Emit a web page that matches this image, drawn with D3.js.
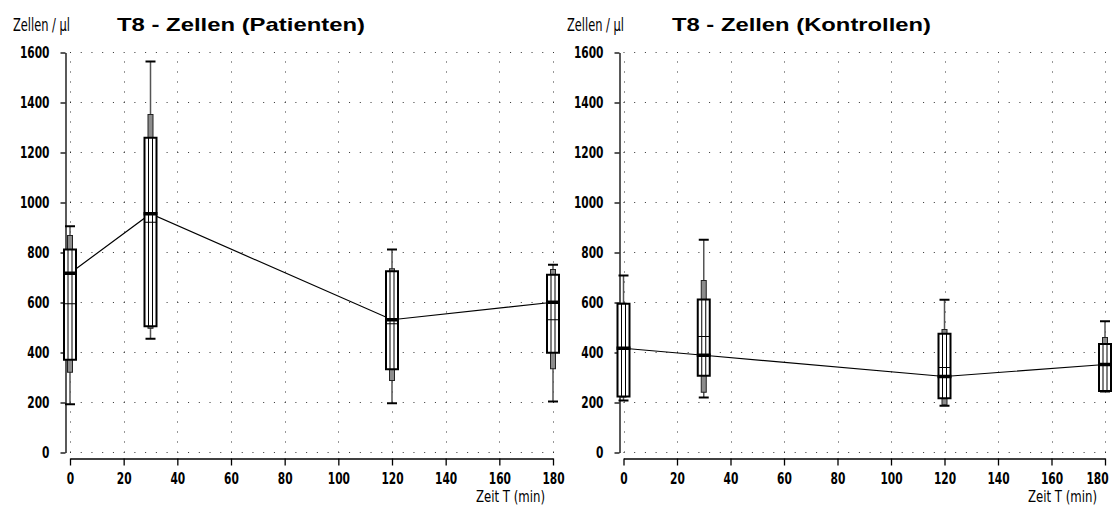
<!DOCTYPE html>
<html>
<head>
<meta charset="utf-8">
<script src="https://cdn.jsdelivr.net/npm/d3@7"></script>
<style>
body { margin: 0; background: #fff; }
svg { display: block; }
.tick text { font-family: "DejaVu Sans Condensed", "DejaVu Sans"; font-stretch: condensed; font-weight: bold; font-size: 15px; fill: #000; }
</style>
</head>
<body>
<svg id="chart" width="1115" height="507"></svg>
<script>
// measurement times (min)
var times = [0, 30, 120, 180]
var xTicks = [0, 20, 40, 60, 80, 100, 120, 140, 160, 180]
var yTicks = [0, 200, 400, 600, 800, 1000, 1200, 1400, 1600]

// Patienten
var patMin = [193, 455, 197, 204]
var patP10 = [321, 497, 288, 335]
var patQ1 = [371, 505, 333, 399]
var patMedian = [717, 955, 531, 601]
var patMean = [595, 921, 515, 531]
var patQ3 = [812, 1259, 725, 711]
var patP90 = [868, 1352, 735, 732]
var patMax = [905, 1564, 812, 751]

// Kontrollen
var konMin = [208, 220, 187, 244]
var konP10 = [222, 241, 191, 246]
var konQ1 = [224, 307, 217, 246]
var konMedian = [417, 389, 304, 352]
var konMean = [417, 464, 340, 352]
var konQ3 = [595, 612, 475, 434]
var konP90 = [597, 688, 492, 460]
var konMax = [708, 851, 611, 525]

var svg = d3.select('#chart')

function drawPanel(p) {
    var g = svg.append('g')
    var xScale = d3.scaleLinear().domain([0, 180]).range([p.left, p.right])
    var yScale = d3.scaleLinear().domain([0, 1600]).range([452.5, 52.5])
    var dx = xScale(4) - xScale(0)
    var dy = yScale(0) - yScale(40)

    // dotted grid
    g.selectAll('.hgrid').data(yTicks).enter().append('line')
        .attr('x1', xScale(0)).attr('x2', xScale(180) + 1)
        .attr('y1', function (d) { return yScale(d) }).attr('y2', function (d) { return yScale(d) })
        .style('stroke', '#333').style('stroke-width', 1)
        .style('stroke-dasharray', '1 ' + (dx - 1))
    g.selectAll('.vgrid').data(xTicks).enter().append('line')
        .attr('x1', function (d) { return Math.round(xScale(d)) + 0.5 })
        .attr('x2', function (d) { return Math.round(xScale(d)) + 0.5 })
        .attr('y1', yScale(0)).attr('y2', yScale(1600))
        .style('stroke', '#333').style('stroke-width', 1)
        .style('stroke-dasharray', '1 ' + (dy - 1))

    // axes
    g.append('g')
        .attr('transform', 'translate(' + (p.axisX + 0.5) + ',0)')
        .call(d3.axisLeft(yScale).tickValues(yTicks).tickFormat(d3.format('d'))
            .tickSize(5).tickSizeOuter(0).tickPadding(11))
    var xAxis = g.append('g')
        .attr('transform', 'translate(0,458.5)')
        .call(d3.axisBottom(xScale).tickValues(xTicks).tickFormat(d3.format('d'))
            .tickSize(7).tickSizeOuter(0).tickPadding(8))
    g.selectAll('.domain, .tick line').style('stroke', '#000').style('stroke-width', 1.3)
    g.selectAll('.tick text').each(function () {
        var t = d3.select(this)
        t.attr('textLength', t.text().length * 7.4).attr('lengthAdjust', 'spacingAndGlyphs')
    })
    if (p.lastTickShift) {
        xAxis.selectAll('.tick text')
            .filter(function (d) { return d === 180 })
            .attr('dx', p.lastTickShift)
    }

    // median line
    var line = d3.line()
        .x(function (d, i) { return xScale(times[i]) })
        .y(function (d) { return yScale(d) })
    g.append('path').datum(p.median)
        .attr('d', line)
        .style('fill', 'none').style('stroke', '#000').style('stroke-width', 1.2)

    // box plots
    times.forEach(function (t, i) {
        var cx = xScale(t)
        var b = g.append('g')
        b.append('line')
            .attr('x1', cx).attr('x2', cx)
            .attr('y1', yScale(p.min[i])).attr('y2', yScale(p.max[i]))
            .style('stroke', '#555').style('stroke-width', 1.5)
        ;[p.min[i], p.max[i]].forEach(function (v) {
            b.append('line')
                .attr('x1', cx - 5).attr('x2', cx + 5)
                .attr('y1', yScale(v)).attr('y2', yScale(v))
                .style('stroke', '#000').style('stroke-width', 2)
        })
        b.append('rect')
            .attr('x', cx - 2.5).attr('width', 5)
            .attr('y', yScale(p.p90[i])).attr('height', yScale(p.p10[i]) - yScale(p.p90[i]))
            .style('fill', '#8c8c8c').style('stroke', '#222').style('stroke-width', 1)
        b.append('rect')
            .attr('x', cx - 6).attr('width', 12)
            .attr('y', yScale(p.q3[i])).attr('height', yScale(p.q1[i]) - yScale(p.q3[i]))
            .style('fill', '#fff').style('stroke', '#000').style('stroke-width', 2)
        ;[cx - 2, cx + 2].forEach(function (x) {
            b.append('line')
                .attr('x1', x).attr('x2', x)
                .attr('y1', yScale(p.q3[i])).attr('y2', yScale(p.q1[i]))
                .style('stroke', '#000').style('stroke-width', 1)
        })
        b.append('line')
            .attr('x1', cx - 6).attr('x2', cx + 6)
            .attr('y1', yScale(p.mean[i])).attr('y2', yScale(p.mean[i]))
            .style('stroke', '#000').style('stroke-width', 1)
        b.append('line')
            .attr('x1', cx - 7).attr('x2', cx + 7)
            .attr('y1', yScale(p.median[i])).attr('y2', yScale(p.median[i]))
            .style('stroke', '#000').style('stroke-width', 3.5)
    })

    // labels
    g.append('text')
        .attr('x', p.unitX).attr('y', 31)
        .attr('textLength', 57).attr('lengthAdjust', 'spacingAndGlyphs')
        .style('font-family', '"DejaVu Sans Condensed", "DejaVu Sans"').style('font-stretch', 'condensed')
        .style('font-size', '17px')
        .text('Zellen / µl')
    g.append('text')
        .attr('x', p.titleX).attr('y', 31)
        .attr('textLength', p.titleLen).attr('lengthAdjust', 'spacingAndGlyphs')
        .style('font-family', '"Liberation Sans", Arial').style('font-weight', 'bold')
        .style('font-size', '19px')
        .text(p.title)
    g.append('text')
        .attr('x', p.labelX).attr('y', 502)
        .attr('textLength', 69).attr('lengthAdjust', 'spacingAndGlyphs')
        .style('font-family', '"DejaVu Sans Condensed", "DejaVu Sans"').style('font-stretch', 'condensed')
        .style('font-size', '15px')
        .text('Zeit T (min)')
}

drawPanel({
    left: 70, right: 553, axisX: 65, unitX: 13, titleX: 117, titleLen: 248, labelX: 476,
    title: 'T8 - Zellen (Patienten)',
    min: patMin, p10: patP10, q1: patQ1, median: patMedian, mean: patMean,
    q3: patQ3, p90: patP90, max: patMax
})
drawPanel({
    left: 623.5, right: 1105, axisX: 619, unitX: 567, titleX: 672, titleLen: 259, labelX: 1028,
    title: 'T8 - Zellen (Kontrollen)', lastTickShift: -8,
    min: konMin, p10: konP10, q1: konQ1, median: konMedian, mean: konMean,
    q3: konQ3, p90: konP90, max: konMax
})
</script>
</body>
</html>
